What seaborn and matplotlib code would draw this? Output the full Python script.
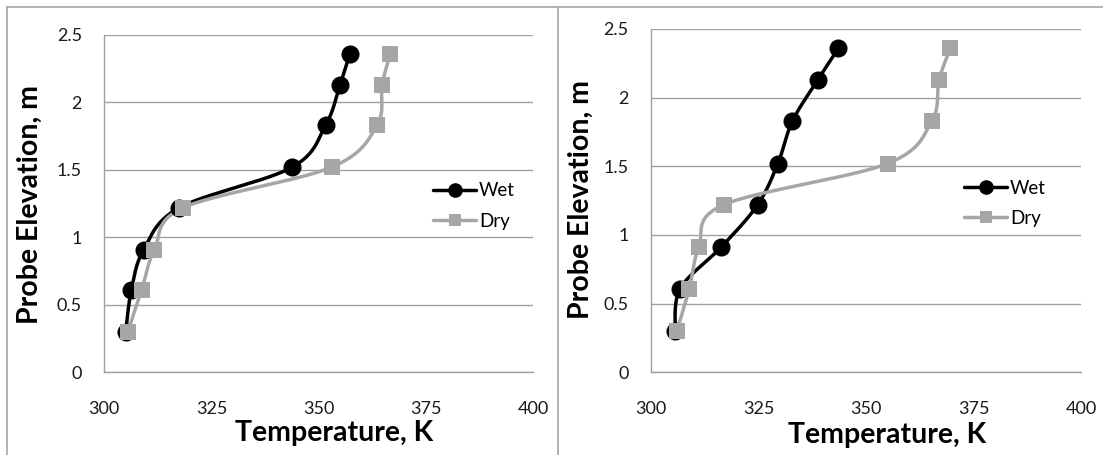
import numpy as np
import matplotlib
matplotlib.use("Agg")
import matplotlib.pyplot as plt
from matplotlib.lines import Line2D
import seaborn as sns

# Probe elevations (m) and measured temperatures (K)
elevation = [0.30, 0.61, 0.91, 1.22, 1.52, 1.83, 2.13, 2.36]

left_wet = [305.0, 306.3, 309.2, 317.5, 343.8, 351.6, 355.0, 357.3]
left_dry = [305.5, 308.7, 311.7, 318.4, 353.0, 363.6, 364.8, 366.7]

right_wet = [305.6, 306.8, 316.3, 324.8, 329.5, 332.9, 338.8, 343.6]
right_dry = [306.0, 308.9, 311.1, 316.9, 355.0, 365.3, 367.0, 369.6]

series_names = ["Wet", "Dry"]
x_ticks = [300, 325, 350, 375, 400]
y_ticks = [0, 0.5, 1, 1.5, 2, 2.5]
x_label = "Temperature, K"
y_label = "Probe Elevation, m"

sns.set_style("white")
plt.rcParams["font.family"] = ["Lato", "DejaVu Sans"]

W, H = 1103, 455
fig = plt.figure(figsize=(W / 100, H / 100), dpi=100)

WET_COLOR = "black"
DRY_COLOR = "#A6A6A6"
GRID_COLOR = "#A0A0A0"
TEXT_COLOR = "#1a1a1a"


def smooth(xs, ys, sx=4.29, sy=135.0, n=30):
    """Smoothed line through the points (cubic Bezier, Catmull-Rom tangents)."""
    p = np.column_stack([np.asarray(xs) * sx, np.asarray(ys) * sy])
    ext = np.vstack([p[0], p, p[-1]])
    out = []
    t = np.linspace(0, 1, n)[:, None]
    for i in range(len(p) - 1):
        p0, p1 = ext[i + 1], ext[i + 2]
        c1 = p0 + (ext[i + 2] - ext[i]) / 6.0
        c2 = p1 - (ext[i + 3] - ext[i + 1]) / 6.0
        seg = ((1 - t) ** 3) * p0 + 3 * ((1 - t) ** 2) * t * c1 + 3 * (1 - t) * t ** 2 * c2 + t ** 3 * p1
        out.append(seg if i == 0 else seg[1:])
    out = np.vstack(out)
    return out[:, 0] / sx, out[:, 1] / sy


def panel(rect, wet, dry, ylab_xy, xlab_xy, leg_anchor):
    ax = fig.add_axes(rect)
    for temps, color, marker, ms in [(wet, WET_COLOR, "o", 13), (dry, DRY_COLOR, "s", 11)]:
        cx, cy = smooth(temps, elevation)
        sns.lineplot(x=cx, y=cy, sort=False, estimator=None, color=color,
                     linewidth=2.5, ax=ax, zorder=3)
        ax.plot(temps, elevation, linestyle="none", marker=marker, markersize=ms,
                color=color, markeredgewidth=0, zorder=4)
    ax.set_xlim(300, 400)
    ax.set_ylim(0, 2.5)
    ax.set_xticks(x_ticks)
    ax.set_yticks(y_ticks)
    ax.set_xticklabels([str(v) for v in x_ticks])
    ax.set_yticklabels([f"{v:g}" for v in y_ticks])
    ax.yaxis.grid(True, color=GRID_COLOR, linewidth=1.0)
    ax.xaxis.grid(False)
    for s in ["top", "right"]:
        ax.spines[s].set_visible(False)
    for s in ["left", "bottom"]:
        ax.spines[s].set_color(GRID_COLOR)
        ax.spines[s].set_linewidth(1.0)
    ax.tick_params(axis="both", length=0, labelsize=13, labelcolor=TEXT_COLOR)
    ax.tick_params(axis="x", pad=21)
    ax.tick_params(axis="y", pad=16)
    ax.set_xlabel(x_label, fontsize=20.5, fontweight="bold", color="black", va="center")
    ax.set_ylabel(y_label, fontsize=20.5, fontweight="bold", color="black", va="center")
    ax.yaxis.set_label_coords(*ylab_xy)
    ax.xaxis.set_label_coords(*xlab_xy)
    handles = [
        Line2D([], [], color=WET_COLOR, lw=2.5, marker="o", markersize=9.5),
        Line2D([], [], color=DRY_COLOR, lw=2.5, marker="s", markersize=8.5, markeredgewidth=0),
    ]
    ax.legend(handles, series_names, loc="center left", bbox_to_anchor=leg_anchor,
              frameon=False, fontsize=13.5, handlelength=2.3, handletextpad=0.15,
              labelspacing=0.7, borderpad=0, borderaxespad=0, labelcolor="black")
    return ax


panel([104.3 / W, 1 - 372.3 / H, 428.7 / W, 337.3 / H], left_wet, left_dry,
      (-0.173, 0.496), (0.536, -0.18), (0.767, 0.493))
panel([651 / W, 1 - 372.3 / H, 430 / W, 343.3 / H], right_wet, right_dry,
      (-0.164, 0.502), (0.548, -0.183), (0.728, 0.492))

# chart-area borders
border = dict(color="#A6A6A6", linewidth=1.2, transform=fig.transFigure)
fig.add_artist(Line2D([7 / W, 1], [1 - 7 / H, 1 - 7 / H], **border))
fig.add_artist(Line2D([7 / W, 7 / W], [0, 1 - 7 / H], **border))
fig.add_artist(Line2D([557.5 / W, 557.5 / W], [0, 1 - 7 / H], **border))

fig.savefig("out.png", dpi=100, facecolor="white")
